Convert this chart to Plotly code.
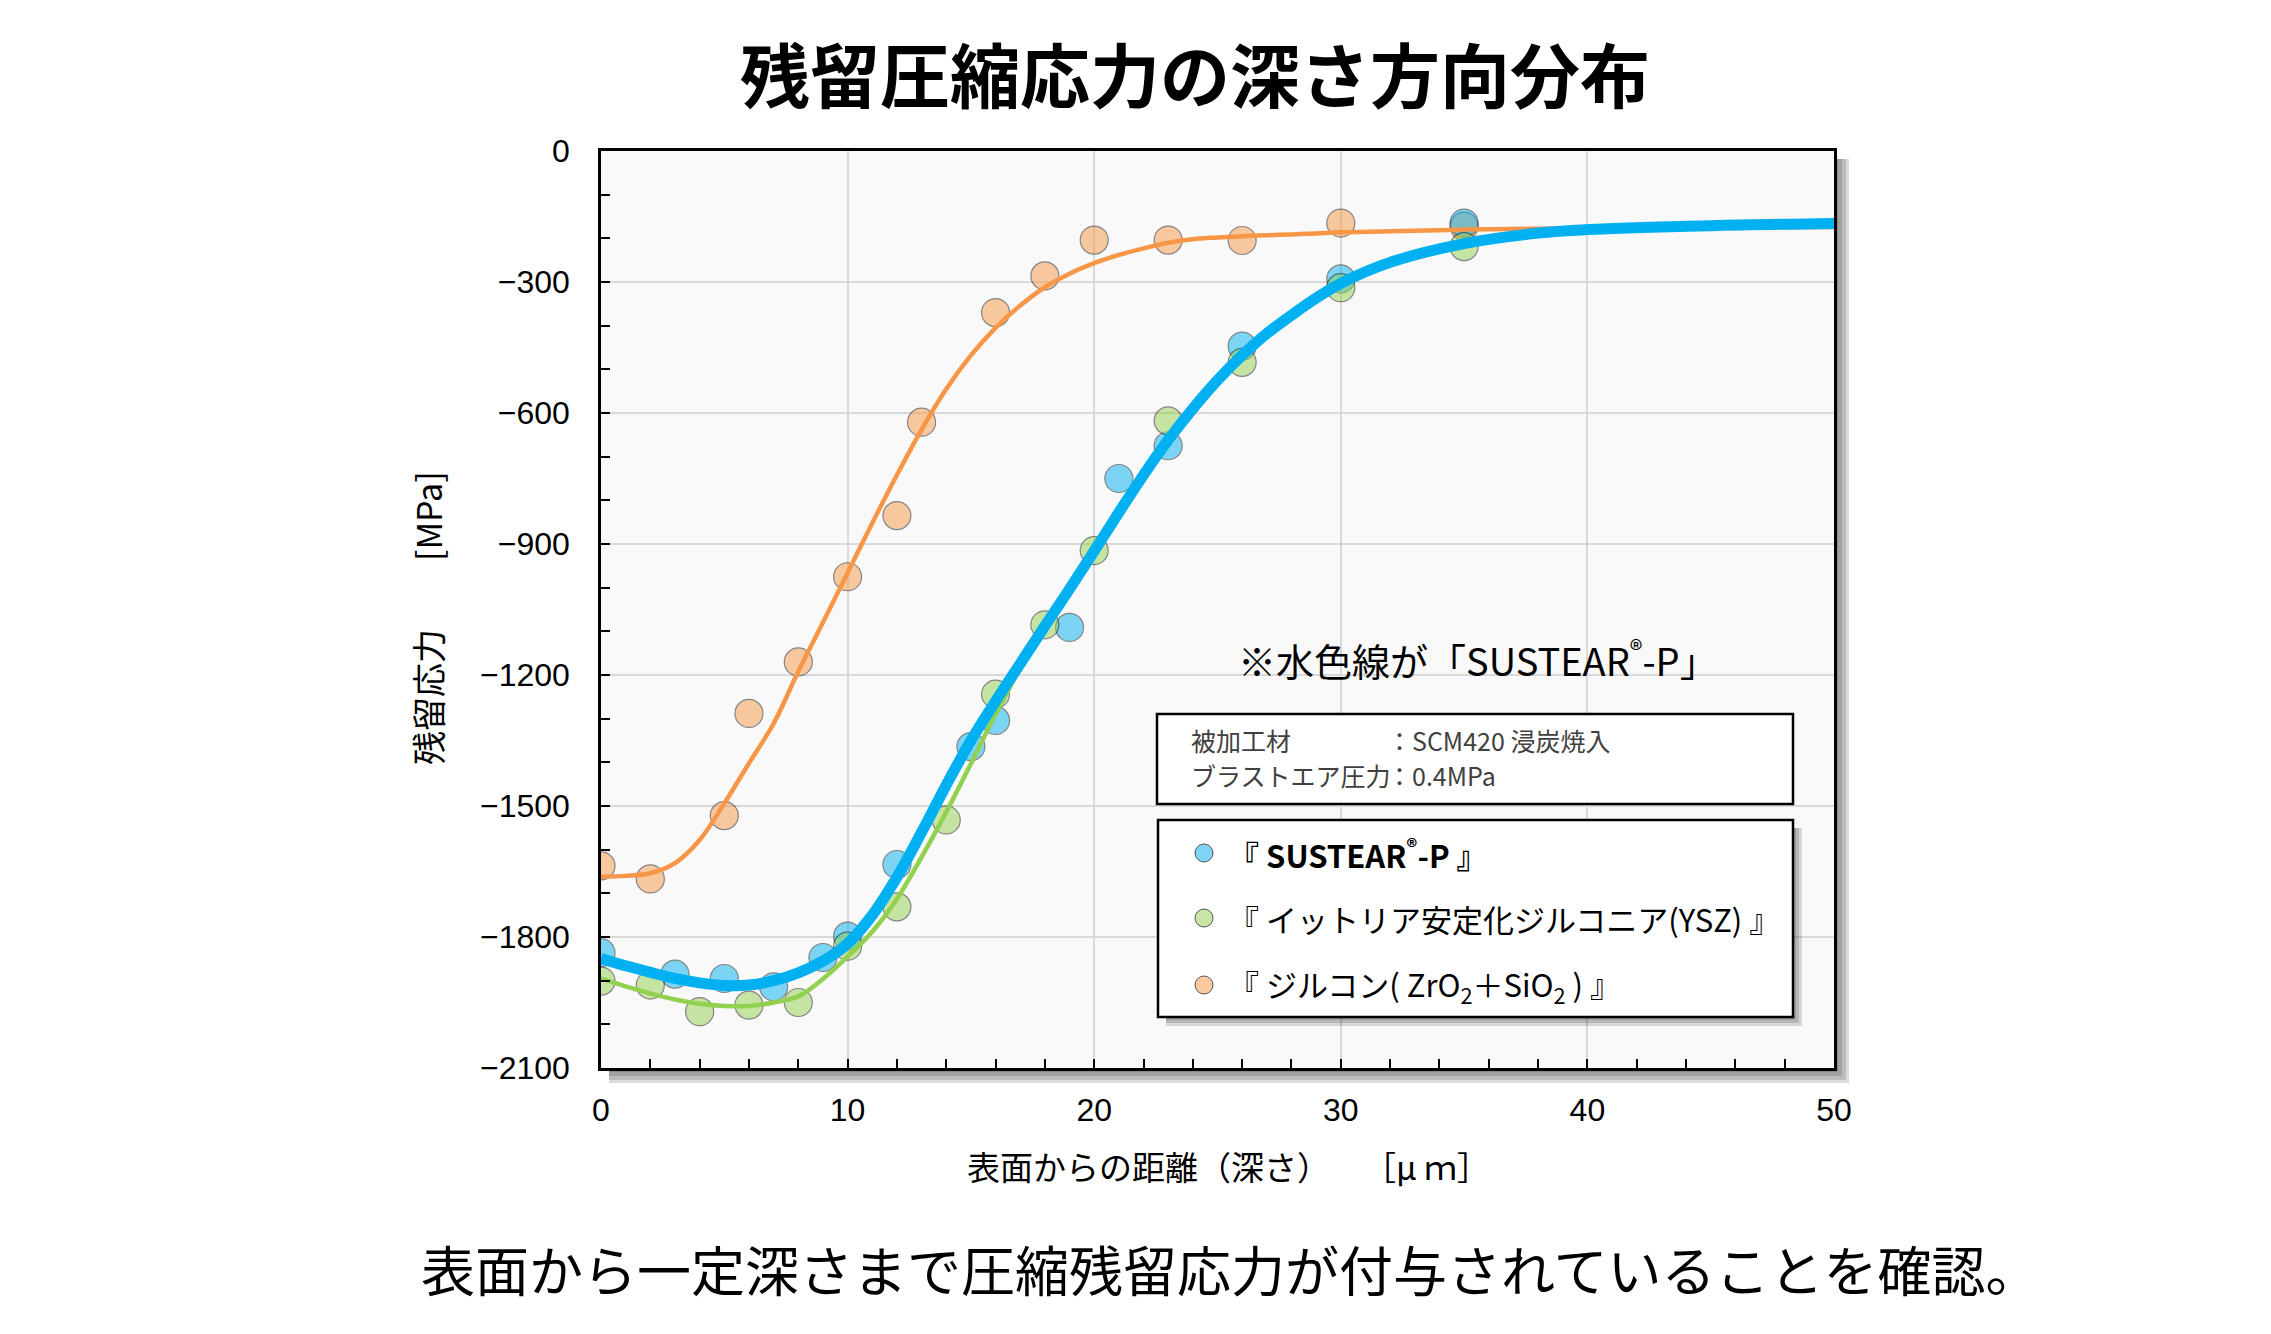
import plotly.graph_objects as go

# measured points (depth [um], residual stress [MPa])
sustear_x = [0, 3, 5, 7, 9, 10, 12, 15, 16, 19, 21, 23, 26, 30, 35]
sustear_y = [-1836, -1885, -1895, -1914, -1847, -1798, -1634, -1364, -1304, -1091, -750, -675, -447, -293, -165]

ysz_x = [0, 2, 4, 6, 8, 10, 12, 14, 16, 18, 20, 23, 26, 30, 35]
ysz_y = [-1901, -1910, -1971, -1956, -1950, -1821, -1731, -1532, -1244, -1085, -915, -618, -484, -313, -219]

zircon_x = [0, 2, 5, 6, 8, 10, 12, 13, 16, 18, 20, 23, 26, 30, 35]
zircon_y = [-1637, -1667, -1522, -1288, -1170, -975, -835, -621, -370, -286, -204, -204, -205, -165, -172]

# fitted curves
fit_x = [0, 1, 2, 3, 4, 5, 6, 7, 8, 9, 10, 11, 12, 13, 14, 15, 16, 17, 18, 19, 20,
         21, 22, 23, 24, 25, 26, 27, 28, 29, 30, 32, 35, 38, 40, 45, 50]
sustear_fit = [-1849, -1866, -1881, -1895, -1905, -1911, -1910, -1900, -1882, -1855, -1815,
               -1750, -1663, -1560, -1452, -1350, -1260, -1174, -1088, -1003, -916,
               -828, -742, -662, -590, -525, -468, -418, -376, -337, -303, -255, -212,
               -188, -180, -171, -166]
ysz_fit = [-1895, -1913, -1929, -1943, -1953, -1958, -1958, -1950, -1936, -1896, -1845,
           -1788, -1713, -1617, -1514, -1403, -1290, -1185, -1092, -1006, -918,
           -830, -744, -664, -592, -527, -470, -420, -378, -339, -305, -257, -214,
           -190, -181, -172, -167]
zircon_fit = [-1662, -1660, -1654, -1631, -1578, -1494, -1402, -1311, -1192, -1080, -966,
              -852, -742, -638, -545, -468, -405, -354, -312, -281, -257,
              -238, -223, -210, -202, -198, -195, -193, -191, -189, -186, -184, -180,
              -178, -177, -175, -174]

y_ticks = [0, -300, -600, -900, -1200, -1500, -1800, -2100]

BLUE = "#00B0F0"
GREEN = "#92D050"
ORANGE = "#F79646"
FONT = "Noto Sans CJK JP"

# page offset of the browser body (px) and plot area in reference pixels
SH = 8
W, H = 2271 - SH, 1334 - SH
L, R, T, B = 601, 1834, 151, 1068


def px(x):
    return (x - L) / (R - L)


def py(y):
    return (B - y) / (B - T)


fig = go.Figure()

for xs, ys, col, name in [(zircon_x, zircon_y, ORANGE, "zircon"),
                          (sustear_x, sustear_y, BLUE, "SUSTEAR-P"),
                          (ysz_x, ysz_y, GREEN, "YSZ")]:
    fig.add_trace(go.Scatter(x=xs, y=ys, mode="markers", name=name,
                             marker=dict(size=28, color=col, opacity=0.5,
                                         line=dict(color="#111111", width=1.2))))

fig.add_trace(go.Scatter(x=fit_x, y=zircon_fit, mode="lines", line_shape="spline",
                         line=dict(color=ORANGE, width=4.5)))
fig.add_trace(go.Scatter(x=fit_x, y=ysz_fit, mode="lines", line_shape="spline",
                         line=dict(color=GREEN, width=4.5)))
fig.add_trace(go.Scatter(x=fit_x, y=sustear_fit, mode="lines", line_shape="spline",
                         line=dict(color=BLUE, width=11)))

shapes = []
# drop shadow on the right and bottom of the plot area
for off in [4, 8, 12, 15]:
    shapes.append(dict(type="rect", xref="paper", yref="paper", layer="below",
                       x0=px(R), x1=px(R + off), y0=py(B + off), y1=py(T + 8),
                       fillcolor="rgba(0,0,0,0.14)", line_width=0))
    shapes.append(dict(type="rect", xref="paper", yref="paper", layer="below",
                       x0=px(L + 8), x1=px(R), y0=py(B + off), y1=py(B),
                       fillcolor="rgba(0,0,0,0.14)", line_width=0))

# info box
shapes.append(dict(type="rect", xref="paper", yref="paper",
                   x0=px(1157), x1=px(1793), y0=py(804), y1=py(714),
                   fillcolor="white", line=dict(color="black", width=2.5)))
# legend box with shadow
for off in [3, 6, 9]:
    shapes.append(dict(type="rect", xref="paper", yref="paper",
                       x0=px(1166), x1=px(1793 + off), y0=py(1017 + off), y1=py(828),
                       fillcolor="rgba(0,0,0,0.14)", line_width=0))
shapes.append(dict(type="rect", xref="paper", yref="paper",
                   x0=px(1158), x1=px(1793), y0=py(1017), y1=py(820),
                   fillcolor="white", line=dict(color="black", width=2.5)))

legend_rows = [(853, BLUE, "『 SUSTEAR<sup>®</sup>-P 』", "bold"),
               (918, GREEN, "『 イットリア安定化ジルコニア(YSZ) 』", "normal"),
               (985, ORANGE, "『 ジルコン( ZrO<sub>2</sub>＋SiO<sub>2</sub> ) 』", "normal")]
fills = {BLUE: "#7FD4F6", GREEN: "#C8E4A6", ORANGE: "#F9C9A0"}

annotations = []
for ypix, col, label, wt in legend_rows:
    shapes.append(dict(type="circle", xref="paper", yref="paper",
                       xsizemode="pixel", ysizemode="pixel",
                       xanchor=px(1204), yanchor=py(ypix),
                       x0=-9, x1=9, y0=-9, y1=9,
                       fillcolor=fills[col], line=dict(color="#555555", width=1)))
    annotations.append(dict(x=px(1226), y=py(ypix), text=label, xanchor="left",
                            font=dict(size=31, color="black", family=FONT, weight=wt)))

annotations += [
    dict(x=px(1195), y=py(72), text="残留圧縮応力の深さ方向分布",
         font=dict(size=70, family=FONT, weight="bold", color="black")),
    dict(x=px(1230), y=py(1268), text="表面から一定深さまで圧縮残留応力が付与されていることを確認。",
         font=dict(size=54, family=FONT, color="black")),
    dict(x=px(1228), y=py(1166), text="表面からの距離（深さ）　　［μ ｍ］",
         font=dict(size=33, family=FONT, color="black")),
    dict(x=px(427), y=py(618), text="残留応力　　[MPa]", textangle=-90,
         font=dict(size=34, family=FONT, color="black")),
    dict(x=px(1478), y=py(658), text="※水色線が「SUSTEAR<sup>®</sup>-P」",
         font=dict(size=38, family=FONT, color="black")),
    dict(x=px(1189), y=py(740), text="被加工材", xanchor="left",
         font=dict(size=25, family=FONT, color="#404040")),
    dict(x=px(1189), y=py(775), text="ブラストエア圧力", xanchor="left",
         font=dict(size=25, family=FONT, color="#404040")),
    dict(x=px(1385), y=py(740), text="：SCM420 浸炭焼入", xanchor="left",
         font=dict(size=25, family=FONT, color="#404040")),
    dict(x=px(1385), y=py(775), text="：0.4MPa", xanchor="left",
         font=dict(size=25, family=FONT, color="#404040")),
]
for a in annotations:
    a.setdefault("xref", "paper")
    a.setdefault("yref", "paper")
    a.setdefault("showarrow", False)
    a.setdefault("xanchor", "center")
    a.setdefault("yanchor", "middle")

axis_common = dict(showline=True, linecolor="black", linewidth=2.5, mirror=True,
                   ticks="inside", ticklen=9, tickwidth=2, tickcolor="black",
                   showgrid=True, gridcolor="#D9D9D9", gridwidth=2, zeroline=False,
                   tickfont=dict(family="Liberation Sans", size=32, color="black"))

fig.update_layout(
    width=W, height=H,
    margin=dict(l=L - SH, r=2271 - R, t=T - SH, b=1334 - B),
    paper_bgcolor="white",
    plot_bgcolor="#F9F9F9",
    showlegend=False,
    xaxis=dict(range=[0, 50], dtick=10, ticklabelstandoff=12,
               minor=dict(dtick=2, ticks="inside", ticklen=9, tickwidth=2, tickcolor="black",
                          showgrid=False),
               **axis_common),
    yaxis=dict(range=[-2100, 0], tickvals=y_ticks, ticklabelstandoff=22,
               minor=dict(dtick=100, ticks="inside", ticklen=9, tickwidth=2, tickcolor="black",
                          showgrid=False),
               **axis_common),
    shapes=shapes,
    annotations=annotations,
)

fig.write_html("out.html")
